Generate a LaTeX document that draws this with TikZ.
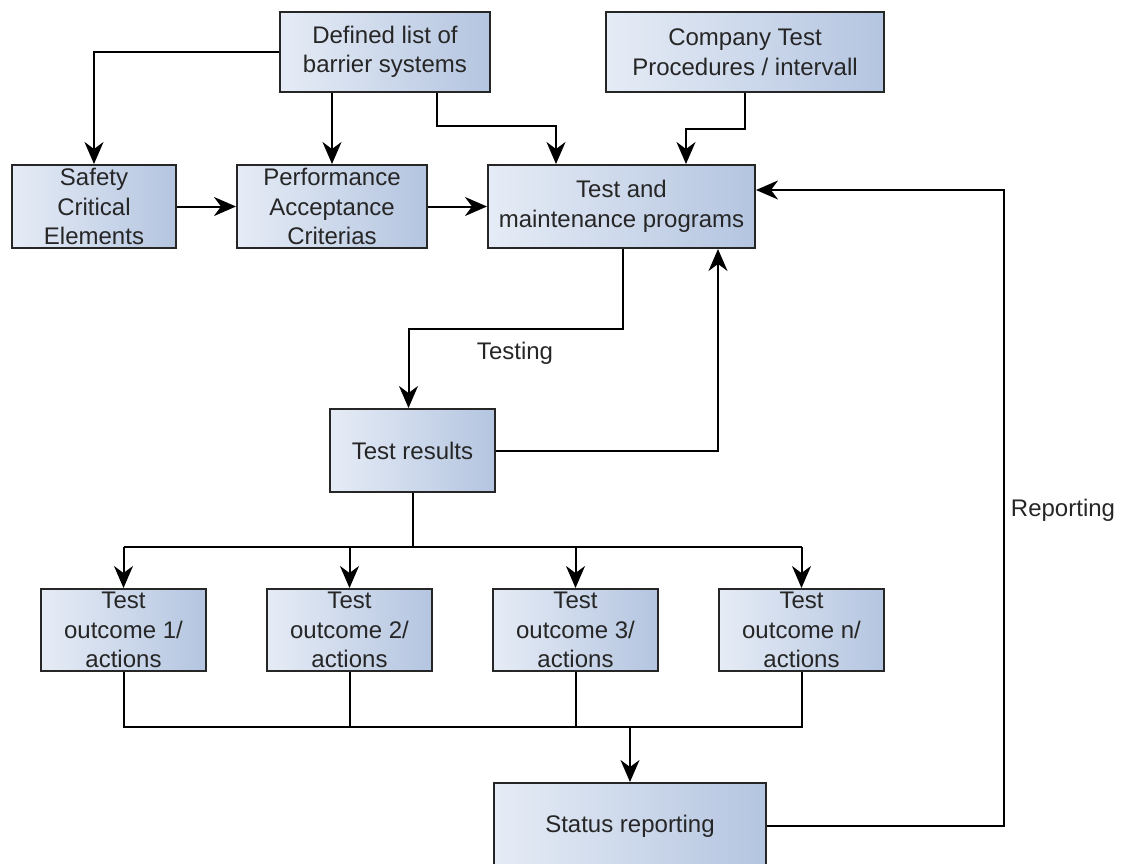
\documentclass[tikz,border=0pt]{standalone}
\usepackage{fontspec}
\setmainfont{Liberation Sans}
\usetikzlibrary{arrows.meta,calc}
\definecolor{boxlight}{HTML}{E6ECF6}
\definecolor{boxdark}{HTML}{B4C5E0}
\definecolor{inkgray}{HTML}{262626}
\tikzset{
  procbox/.style={draw=inkgray, line width=2pt, left color=boxlight, right color=boxdark,
    align=center, text=inkgray, inner sep=0pt,
    font=\fontsize{24}{29.5}\selectfont},
  link/.style={line width=2pt, draw=black},
  arr/.style={link, -{Stealth[length=22pt, width=19pt, inset=7pt]}},
  lbl/.style={text=inkgray, font=\fontsize{24}{29.5}\selectfont}
}
\begin{document}
\begin{tikzpicture}[x=1pt, y=-1pt]
\useasboundingbox (0,0) rectangle (1125,863);
\clip (0,0) rectangle (1125,863);

% input boxes
\node[procbox, minimum width=210pt, minimum height=80pt] (def) at (385,52) {Defined list of\\barrier systems};
\node[procbox, minimum width=278pt, minimum height=80pt] (comp) at (745,52) {Company Test\\Procedures / intervall};
\node[procbox, minimum width=164pt, minimum height=83pt] (sce) at (94,206.5) {Safety\\Critical\\Elements};
\node[procbox, minimum width=190pt, minimum height=83pt] (pac) at (332,206.5) {Performance\\Acceptance\\Criterias};
\node[procbox, minimum width=267pt, minimum height=83pt] (tmp) at (621.5,206.5) {Test and\\maintenance programs};

% results
\node[procbox, minimum width=165pt, minimum height=83pt] (tres) at (412.5,450.5) {Test results};

% outcomes
\node[procbox, minimum width=165pt, minimum height=82pt] (o1) at (123.5,630) {Test\\outcome 1/\\actions};
\node[procbox, minimum width=165pt, minimum height=82pt] (o2) at (349.5,630) {Test\\outcome 2/\\actions};
\node[procbox, minimum width=165pt, minimum height=82pt] (o3) at (575.5,630) {Test\\outcome 3/\\actions};
\node[procbox, minimum width=165pt, minimum height=82pt] (o4) at (801.5,630) {Test\\outcome n/\\actions};

% reporting
\node[procbox, minimum width=272pt, minimum height=86pt] (stat) at (630,826) {Status reporting};

% labels
\node[lbl] (testing) at (515,353) {Testing};
\node[lbl] (reporting) at (1063,510) {Reporting};

% connectors from the list of barrier systems
\draw[arr] (def.west) -| (sce.north);
\draw[arr] (pac.north |- def.south) -- (pac.north);
\draw[arr] ($(def.south)+(52,0)$) -- ++(0,33) -| ($(tmp.north)+(-65.5,0)$);
\draw[arr] (comp.south) -- ++(0,36) -| ($(tmp.north)+(64.5,0)$);

% horizontal chain
\draw[arr] (sce) -- (pac);
\draw[arr] (pac) -- (tmp);

% testing loop
\draw[arr] ($(tmp.south)+(1.5,0)$) -- ++(0,80) -| ($(tres.north)+(-4,0)$);
\draw[arr] (tres.east) -| ($(tmp.south)+(96.5,0)$);

% distribution to outcomes
\coordinate (busA) at (412.5,547);
\draw[link] (tres.south) -- (busA);
\draw[link] (o1.north |- busA) -- (o4.north |- busA);
\foreach \o in {o1,o2,o3,o4}{
  \draw[arr] (\o.north |- busA) -- (\o.north);
}

% collection to status reporting
\coordinate (busB) at (630,727);
\draw[link] (o1.south) -- (o1.south |- busB) -- (o4.south |- busB) -- (o4.south);
\draw[link] (o2.south) -- (o2.south |- busB);
\draw[link] (o3.south) -- (o3.south |- busB);
\draw[arr] (busB) -- (stat.north);

% reporting feedback
\coordinate (repR) at (1004,190);
\draw[arr] (stat.east) -| (repR) -- (tmp.east |- repR);
\end{tikzpicture}
\end{document}
